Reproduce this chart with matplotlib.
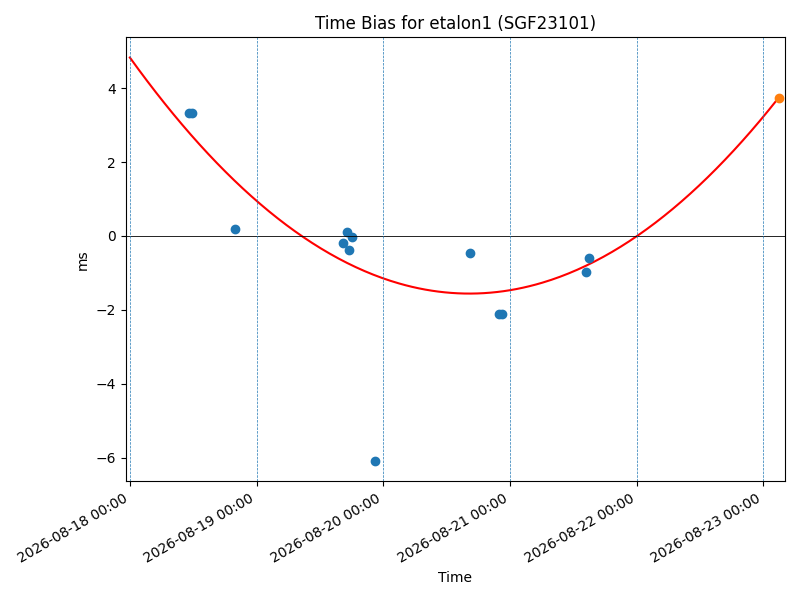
import numpy as np
import pandas as pd
import matplotlib
matplotlib.use("Agg")
import matplotlib.pyplot as plt
import matplotlib.dates as mdates

# Measured time bias points
obs_times = [
    "2026-08-18 11:15", "2026-08-18 11:50", "2026-08-18 19:55",
    "2026-08-19 16:22", "2026-08-19 17:08", "2026-08-19 17:31", "2026-08-19 18:04",
    "2026-08-19 22:23", "2026-08-20 16:28", "2026-08-20 21:58", "2026-08-20 22:35",
    "2026-08-21 14:20", "2026-08-21 14:53",
]
obs_bias = [3.32, 3.32, 0.18, -0.20, 0.10, -0.38, -0.03, -6.10, -0.47, -2.12, -2.12, -0.98, -0.60]

# Predicted point (orange)
pred_time = ["2026-08-23 03:01"]
pred_bias = [3.74]

# Quadratic fit coefficients (ms vs days since epoch)
fit_epoch = "2026-08-18 00:00"
fit_coeffs = [0.89, -4.77, 4.832]
fit_start = "2026-08-18 00:00"
fit_end = "2026-08-23 03:01"

tick_days = pd.date_range("2026-08-18", "2026-08-23", freq="D")

obs_t = pd.to_datetime(obs_times)
pred_t = pd.to_datetime(pred_time)
epoch = pd.Timestamp(fit_epoch)

fit_t = pd.date_range(fit_start, fit_end, periods=300)
fit_days = (fit_t - epoch) / pd.Timedelta(days=1)
fit_y = np.polyval(fit_coeffs, np.asarray(fit_days))

fig, ax = plt.subplots(figsize=(8, 6), dpi=100)

# curve first so the points sit on top of it
ax.plot(fit_t, fit_y, color="red", zorder=1)
ax.scatter(obs_t, obs_bias, zorder=2)
ax.scatter(pred_t, pred_bias, zorder=2)

ax.axhline(0, color="black", linewidth=0.6)
for d in tick_days:
    ax.axvline(d, linestyle="--", linewidth=0.5)

ax.set_xlim(pd.Timestamp("2026-08-17 23:11"), pd.Timestamp("2026-08-23 04:06"))
ax.xaxis.set_major_locator(mdates.DayLocator())
ax.xaxis.set_major_formatter(mdates.DateFormatter("%Y-%m-%d %H:%M"))

ax.set_title("Time Bias for etalon1 (SGF23101)")
ax.set_xlabel("Time")
ax.set_ylabel("ms")

fig.autofmt_xdate()
fig.tight_layout()
fig.savefig("out.png")
